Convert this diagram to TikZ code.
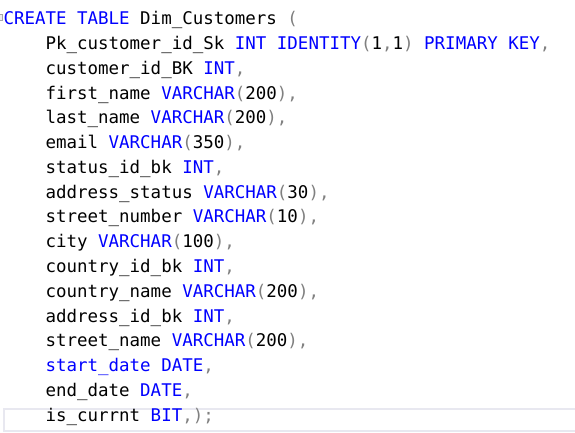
\documentclass[tikz,border=0pt]{standalone}
\usepackage{fontspec}
\setmonofont{DejaVu Sans Mono}
\definecolor{kwblue}{RGB}{0,0,255}
\definecolor{pgray}{RGB}{128,128,128}
\definecolor{curline}{RGB}{232,232,240}
\newcommand{\kw}[1]{\textcolor{kwblue}{#1}}
\newcommand{\pu}[1]{\textcolor{pgray}{#1}}
\newcommand{\ind}{\phantom{xxxx}}
\tikzset{
  codeline/.style={anchor=base west, inner sep=0pt, outer sep=0pt,
    font=\ttfamily\fontsize{17.47}{20}\selectfont, text=black},
}
\begin{document}
\begin{tikzpicture}[x=1pt,y=1pt]
\useasboundingbox[fill=white] (0,0) rectangle (575,-432);
% current line highlight
\draw[curline, line width=2pt] (577,-408.7) -- (3.5,-408.7) -- (3.5,-430.7) -- (577,-430.7);
% outline marker
\draw[gray!70, fill=gray!15, line width=0.6pt] (-2,-14.5) rectangle (2.5,-20.5);
\def\lh{24.77}
\node[codeline] (l1) at (3.5,-24.8) {\kw{CREATE} \kw{TABLE} Dim\_Customers \pu{(}};
\node[codeline] (l2) at (3.5,-24.8-1*\lh) {\ind Pk\_customer\_id\_Sk \kw{INT} \kw{IDENTITY}\pu{(}1\pu{,}1\pu{)} \kw{PRIMARY} \kw{KEY}\pu{,}};
\node[codeline] (l3) at (3.5,-24.8-2*\lh) {\ind customer\_id\_BK \kw{INT}\pu{,}};
\node[codeline] (l4) at (3.5,-24.8-3*\lh) {\ind first\_name \kw{VARCHAR}\pu{(}200\pu{),}};
\node[codeline] (l5) at (3.5,-24.8-4*\lh) {\ind last\_name \kw{VARCHAR}\pu{(}200\pu{),}};
\node[codeline] (l6) at (3.5,-24.8-5*\lh) {\ind email \kw{VARCHAR}\pu{(}350\pu{),}};
\node[codeline] (l7) at (3.5,-24.8-6*\lh) {\ind status\_id\_bk \kw{INT}\pu{,}};
\node[codeline] (l8) at (3.5,-24.8-7*\lh) {\ind address\_status \kw{VARCHAR}\pu{(}30\pu{),}};
\node[codeline] (l9) at (3.5,-24.8-8*\lh) {\ind street\_number \kw{VARCHAR}\pu{(}10\pu{),}};
\node[codeline] (l10) at (3.5,-24.8-9*\lh) {\ind city \kw{VARCHAR}\pu{(}100\pu{),}};
\node[codeline] (l11) at (3.5,-24.8-10*\lh) {\ind country\_id\_bk \kw{INT}\pu{,}};
\node[codeline] (l12) at (3.5,-24.8-11*\lh) {\ind country\_name \kw{VARCHAR}\pu{(}200\pu{),}};
\node[codeline] (l13) at (3.5,-24.8-12*\lh) {\ind address\_id\_bk \kw{INT}\pu{,}};
\node[codeline] (l14) at (3.5,-24.8-13*\lh) {\ind street\_name \kw{VARCHAR}\pu{(}200\pu{),}};
\node[codeline] (l15) at (3.5,-24.8-14*\lh) {\ind \kw{start\_date} \kw{DATE}\pu{,}};
\node[codeline] (l16) at (3.5,-24.8-15*\lh) {\ind end\_date \kw{DATE}\pu{,}};
\node[codeline] (l17) at (3.5,-24.8-16*\lh) {\ind is\_currnt \kw{BIT}\pu{,);}};
\end{tikzpicture}
\end{document}
